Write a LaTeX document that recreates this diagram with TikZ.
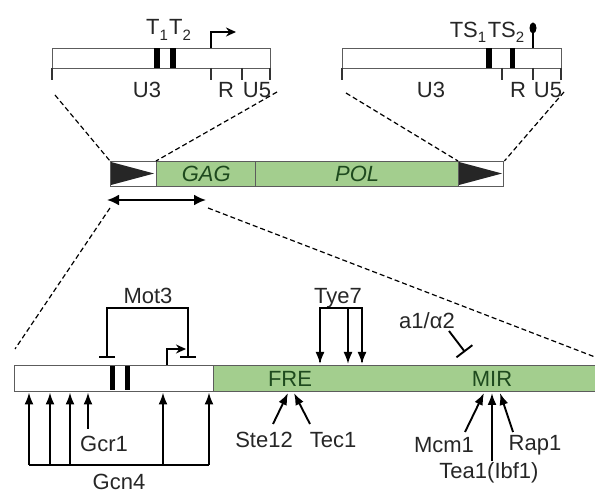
\documentclass[tikz,border=0pt]{standalone}
\usepackage{fontspec}
\setmainfont{Liberation Sans}
\usetikzlibrary{arrows.meta,shapes.geometric}
\definecolor{gfill}{HTML}{A3CE8E}
\definecolor{gtext}{HTML}{1E4A1E}
\definecolor{edge}{HTML}{5C5C5C}
\newcommand\mysubs[1]{\raisebox{-0.45ex}{\fontsize{15}{15}\selectfont #1}}
\tikzset{
  ltrbox/.style={draw=edge, line width=1.4pt, fill=white},
  greenbox/.style={draw=edge, line width=1.4pt, fill=gfill},
  tickline/.style={draw=black!80, line width=1.3pt},
  blk/.style={fill=black, draw=none},
  lab/.style={font=\fontsize{22}{24}\selectfont, inner sep=0pt, text=black!85},
  glab/.style={font=\fontsize{22}{24}\selectfont, inner sep=0pt, text=gtext},
  zoomline/.style={line width=1.2pt, dash pattern=on 5pt off 3pt},
  act/.style={line width=1.9pt, -{Latex[length=12pt,width=9pt]}},
  inh/.style={line width=1.9pt, -{Bar[width=16pt,line width=1.9pt]}},
}
\begin{document}
\begin{tikzpicture}[x=1pt,y=-1pt]
\useasboundingbox (0,0) rectangle (595,494);

% ---------- top-left LTR ----------
\node[ltrbox, anchor=north west, minimum width=218pt, minimum height=20pt, inner sep=0pt] (ltrA) at (52,48) {};
\fill[blk] (154,48) rectangle (159.5,68);
\fill[blk] (170,48) rectangle (175.5,68);
\draw[tickline] (52,68) -- (52,80) (211,68) -- (211,80) (242,68) -- (242,80) (270,68) -- (270,80);
\coordinate (pA) at (211,48);
\coordinate (pAe) at (236,32);
\draw[line width=1.6pt, -{Stealth[length=10pt,width=9pt]}] (pA) -- (211,32) -- (pAe);
\node[lab] (T1) at (157,30) {T\mysubs{1}};
\node[lab] (T2) at (180,30) {T\mysubs{2}};
\node[lab] (U3a) at (147,90) {U3};
\node[lab] (Ra) at (226,90) {R};
\node[lab] (U5a) at (257,90) {U5};

% ---------- top-right LTR ----------
\node[ltrbox, anchor=north west, minimum width=219pt, minimum height=20pt, inner sep=0pt] (ltrB) at (342,48) {};
\fill[blk] (486,48) rectangle (491.5,68);
\fill[blk] (509.5,48) rectangle (515,68);
\draw[tickline] (342,68) -- (342,80) (502,68) -- (502,80) (533,68) -- (533,80) (561,68) -- (561,80);
\coordinate (tB) at (533,48);
\node[blk, ellipse, minimum width=7pt, minimum height=11pt, inner sep=0pt] (term) at (533,28) {};
\draw[line width=1.6pt] (tB) -- (term.center);
\node[lab] (TS1) at (468,32) {TS\mysubs{1}};
\node[lab] (TS2) at (506,32) {TS\mysubs{2}};
\node[lab] (U3b) at (431,90) {U3};
\node[lab] (Rb) at (518,90) {R};
\node[lab] (U5b) at (548,90) {U5};

% ---------- middle element ----------
\node[ltrbox, anchor=north west, minimum width=46pt, minimum height=25pt, inner sep=0pt] (L1) at (110,161) {};
\fill[black!85] (111,162) -- (154,173.5) -- (111,185) -- cycle;
\node[greenbox, anchor=north west, minimum width=99pt, minimum height=25pt, inner sep=0pt] (gag) at (156,161) {};
\node[greenbox, anchor=north west, minimum width=203pt, minimum height=25pt, inner sep=0pt] (pol) at (255,161) {};
\node[ltrbox, anchor=north west, minimum width=45pt, minimum height=25pt, inner sep=0pt] (L2) at (458,161) {};
\fill[black!85] (459,162) -- (502,173.5) -- (459,185) -- cycle;
\node[glab, font=\fontsize{22}{24}\selectfont\itshape] at (gag.center) {GAG};
\node[glab, font=\fontsize{22}{24}\selectfont\itshape] at (pol.center) {POL};
\coordinate (dA) at (107,200);
\coordinate (dB) at (206,200);
\draw[line width=2.2pt, {Latex[length=12pt,width=11pt]}-{Latex[length=12pt,width=11pt]}] (dA) -- (dB);

% dashed zoom lines (top)
\draw[zoomline] (55,95) -- (L1.north west);
\draw[zoomline] (277,92) -- (gag.north west);
\draw[zoomline] (346,93) -- (L2.north west);
\draw[zoomline] (564,92) -- (L2.north east);

% ---------- bottom promoter ----------
\node[ltrbox, anchor=north west, minimum width=199pt, minimum height=26pt, inner sep=0pt] (prom) at (14,365) {};
\node[greenbox, anchor=north west, minimum width=390pt, minimum height=26pt, inner sep=0pt] (reg) at (213,365) {};
\fill[blk] (109.5,366) rectangle (115,390);
\fill[blk] (124.5,366) rectangle (130,390);

% dashed zoom lines (bottom)
\coordinate (zl) at (15,349);
\coordinate (zr) at (595,357);
\draw[zoomline] (110,208) -- (zl);
\draw[zoomline] (208,208) -- (zr);

% Mot3
\node[lab] (mot3) at (148,296) {Mot3};
\draw[inh] (188,308) -- (107,308) -- (107,358);
\draw[inh] (107,308) -- (188,308) -- (188,358);
% promoter arrow
\coordinate (pC) at (167,365);
\draw[line width=1.6pt, -{Stealth[length=10pt,width=9pt]}] (pC) -- (167,349) -- (186,349);

% Gcn4
\node[lab] (gcn4) at (119,482) {Gcn4};
\draw[line width=1.9pt] (29,465) -- (209,465);
\foreach \x in {29,50,70,163,209} \draw[act] (\x,465) -- (\x,392.5);
% Gcr1
\node[lab, anchor=west] (gcr1) at (80,444) {Gcr1};
\draw[act] (88,429) -- (88,392.5);

% Tye7
\node[lab] (tye7) at (338,298) {Tye7};
\draw[line width=1.9pt] (320,362) -- (320,308) -- (362,308) -- (362,362);
\draw[act] (320,308) -- (320,364);
\draw[act] (348,308) -- (348,364);
\draw[act] (362,308) -- (362,364);

% FRE
\node[glab] (fre) at (290,379) {FRE};
\node[lab] (ste12) at (264,440) {Ste12};
\node[lab] (tec1) at (333,440) {Tec1};
\draw[act] (273,424) -- (288,393);
\draw[act] (310,424) -- (294,393);

% a1/alpha2
\node[lab] (a1) at (427,321) {a1/α2};
\draw[line width=1.9pt, -{Bar[width=20pt,line width=1.9pt]}] (449,331) -- (465,352);

% MIR
\node[glab] (mir) at (492,379) {MIR};
\node[lab] (mcm1) at (444,445) {Mcm1};
\node[lab] (rap1) at (535,445) {Rap1};
\node[lab] (tea1) at (489,473) {Tea1(Ibf1)};
\draw[act] (465,432) -- (484,393);
\draw[act] (492,461) -- (492,393);
\draw[act] (513,432) -- (500,393);
\end{tikzpicture}
\end{document}
